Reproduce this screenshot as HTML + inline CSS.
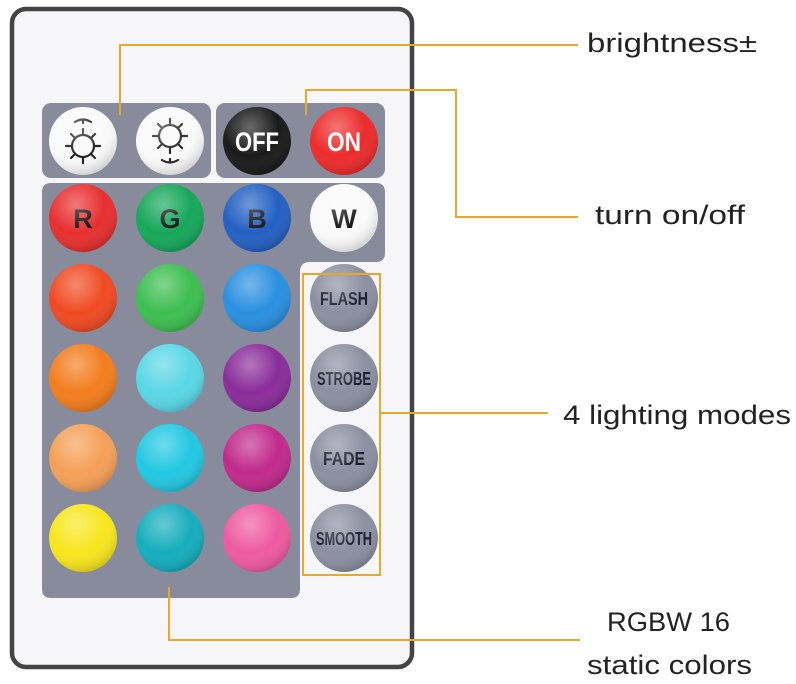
<!DOCTYPE html>
<html><head><meta charset="utf-8"><style>
html,body{margin:0;padding:0;background:#fff;}
svg{display:block;}
text{font-family:"Liberation Sans","DejaVu Sans",sans-serif;}
</style></head><body>
<svg width="796" height="684" viewBox="0 0 796 684" xmlns="http://www.w3.org/2000/svg">
<defs>
<radialGradient id="sh" cx="0.4" cy="0.3" r="0.7">
<stop offset="0" stop-color="#fff" stop-opacity="0.35"/>
<stop offset="0.6" stop-color="#fff" stop-opacity="0"/>
<stop offset="1" stop-color="#000" stop-opacity="0.15"/>
</radialGradient>
</defs>
<rect width="796" height="684" fill="#fff"/>
<rect x="12" y="9" width="400" height="658" rx="14" fill="#f6f6f8" stroke="#444" stroke-width="4.5"/>
<rect x="42" y="103" width="169" height="75" rx="9" fill="#878b9c"/>
<rect x="216" y="103" width="169" height="75" rx="9" fill="#878b9c"/>
<path d="M51 183 H376 Q385 183 385 192 V253 Q385 262 376 262 H310 Q300 262 300 272 V589 Q300 598 291 598 H51 Q42 598 42 589 V192 Q42 183 51 183 Z" fill="#878b9c"/>
<circle cx="83" cy="141" r="34" fill="#fafafa"/>
<circle cx="170" cy="141" r="34" fill="#fafafa"/>
<circle cx="257" cy="141" r="34" fill="#1a1a1a"/>
<circle cx="344" cy="141" r="34" fill="#ec2b2b"/>
<g stroke="#222" stroke-width="2.2" fill="none" stroke-linecap="round">
<circle cx="83" cy="146" r="11"/>
<path d="M83 129v5M83 158v5M66 146h5M95 146h5M71 134l4 4M95 134l-4 4M71 158l4-4M95 158l-4-4M75 122q8-5 16 0M83 120v3"/>
<circle cx="170" cy="136" r="11"/>
<path d="M170 119v5M170 148v5M153 136h5M182 136h5M158 124l4 4M182 124l-4 4M158 148l4-4M182 148l-4-4M162 160q8 5 16 0M170 162v-3"/>
</g>
<text x="257" y="151" font-size="27" font-weight="bold" fill="#fff" text-anchor="middle" textLength="44" lengthAdjust="spacingAndGlyphs">OFF</text>
<text x="344" y="151" font-size="27" font-weight="bold" fill="#fff" text-anchor="middle" textLength="34" lengthAdjust="spacingAndGlyphs">ON</text>
<circle cx="83" cy="218" r="34" fill="#e72f2f"/>
<circle cx="170" cy="218" r="34" fill="#16a75a"/>
<circle cx="257" cy="218" r="34" fill="#2360c2"/>
<circle cx="344" cy="218" r="34" fill="#fafafa"/>
<g font-size="27" font-weight="bold" fill="#111" text-anchor="middle">
<text x="83" y="228">R</text><text x="170" y="228">G</text><text x="257" y="228">B</text><text x="344" y="228">W</text>
</g>
<circle cx="83" cy="298" r="34" fill="#f04a22"/>
<circle cx="170" cy="298" r="34" fill="#3dbe50"/>
<circle cx="257" cy="298" r="34" fill="#2a90e0"/>
<circle cx="83" cy="378" r="34" fill="#f27d1e"/>
<circle cx="170" cy="378" r="34" fill="#5ad7e6"/>
<circle cx="257" cy="378" r="34" fill="#8a2c9a"/>
<circle cx="83" cy="458" r="34" fill="#f5a057"/>
<circle cx="170" cy="458" r="34" fill="#22c8e2"/>
<circle cx="257" cy="458" r="34" fill="#c02a8c"/>
<circle cx="83" cy="538" r="34" fill="#f8e61e"/>
<circle cx="170" cy="538" r="34" fill="#15adbd"/>
<circle cx="257" cy="538" r="34" fill="#ee5aa0"/>
<circle cx="344" cy="298" r="34" fill="#8b8fa0"/>
<circle cx="344" cy="378" r="34" fill="#8b8fa0"/>
<circle cx="344" cy="458" r="34" fill="#8b8fa0"/>
<circle cx="344" cy="538" r="34" fill="#8b8fa0"/>
<g font-size="18" font-weight="bold" fill="#151a2a" text-anchor="middle">
<text x="344" y="305" textLength="48" lengthAdjust="spacingAndGlyphs">FLASH</text>
<text x="344" y="385" textLength="54" lengthAdjust="spacingAndGlyphs">STROBE</text>
<text x="344" y="465" textLength="42" lengthAdjust="spacingAndGlyphs">FADE</text>
<text x="344" y="545" textLength="56" lengthAdjust="spacingAndGlyphs">SMOOTH</text>
</g>
<g fill="url(#sh)">
<circle cx="83" cy="141" r="34"/><circle cx="170" cy="141" r="34"/><circle cx="257" cy="141" r="34"/><circle cx="344" cy="141" r="34"/>
<circle cx="83" cy="218" r="34"/><circle cx="170" cy="218" r="34"/><circle cx="257" cy="218" r="34"/><circle cx="344" cy="218" r="34"/>
<circle cx="83" cy="298" r="34"/><circle cx="170" cy="298" r="34"/><circle cx="257" cy="298" r="34"/>
<circle cx="83" cy="378" r="34"/><circle cx="170" cy="378" r="34"/><circle cx="257" cy="378" r="34"/>
<circle cx="83" cy="458" r="34"/><circle cx="170" cy="458" r="34"/><circle cx="257" cy="458" r="34"/>
<circle cx="83" cy="538" r="34"/><circle cx="170" cy="538" r="34"/><circle cx="257" cy="538" r="34"/>
<circle cx="344" cy="298" r="34"/><circle cx="344" cy="378" r="34"/><circle cx="344" cy="458" r="34"/><circle cx="344" cy="538" r="34"/>
</g>
<g stroke="#e9a82a" stroke-width="2" fill="none">
<path d="M120 115 V45 H578"/>
<path d="M306 115 V90 H456 V217 H578"/>
<rect x="303" y="274" width="77" height="301"/>
<path d="M380 413 H548"/>
<path d="M169 587 V640 H580"/>
</g>
<g font-size="27" fill="#222">
<text x="587" y="52" textLength="170" lengthAdjust="spacingAndGlyphs">brightness±</text>
<text x="595" y="224" textLength="150" lengthAdjust="spacingAndGlyphs">turn on/off</text>
<text x="563" y="424" textLength="228" lengthAdjust="spacingAndGlyphs">4 lighting modes</text>
<text x="607" y="631" textLength="123" lengthAdjust="spacingAndGlyphs">RGBW 16</text>
<text x="587" y="674" textLength="165" lengthAdjust="spacingAndGlyphs">static colors</text>
</g>
</svg>
</body></html>
